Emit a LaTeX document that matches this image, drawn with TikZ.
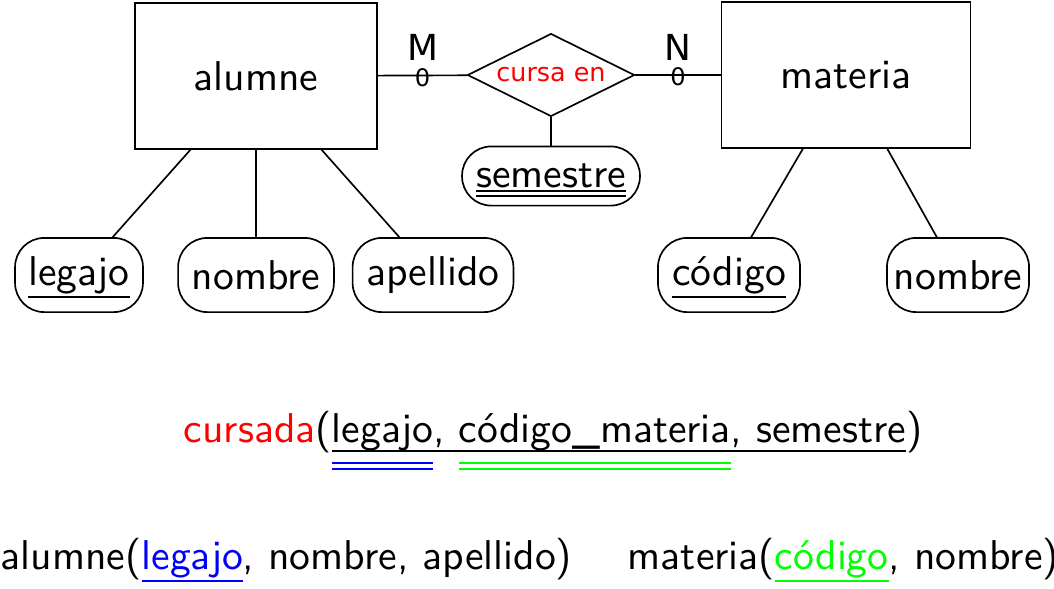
\documentclass[tikz,border=0pt]{standalone}
\usepackage{fontspec}
\usepackage{tikz}
\usetikzlibrary{shapes.geometric}
\usetikzlibrary{positioning}
\newfontfamily\djv{DejaVu Sans}
\newlength\ulwd
% one rule under a word, at a given depth
\newcommand\ul[2][3.1pt]{\settowidth\ulwd{#2}\leavevmode\rlap{\raisebox{0pt}[0pt][0pt]{\rule[-#1]{\ulwd}{0.5pt}}}#2}
% two thin rules under a word, colour, depth of first and second rule
\newcommand\twoline[4]{\settowidth\ulwd{#4}\leavevmode\rlap{\raisebox{0pt}[0pt][0pt]{\color{#1}\rule[-#2]{\ulwd}{0.45pt}\hspace{-\ulwd}\rule[-#3]{\ulwd}{0.45pt}}}#4}
\tikzset{line width=0.5pt,
  entity/.style = {rectangle,draw=black,font=\sffamily,minimum width=#1,minimum height=35pt,inner sep=0pt},
  attrib/.style = {rectangle,draw=black,rounded corners=7pt,font=\sffamily,minimum width=#1,minimum height=17.8pt,inner sep=0pt},
  relation/.style = {diamond,aspect=2,draw=black,text=red,font=\djv\fontsize{6.1}{7}\selectfont,minimum width=40.1pt,minimum height=19.9pt,inner sep=0pt},
  card/.style = {inner sep=0pt,font=\djv\fontsize{8.6}{9}\selectfont},
  zero/.style = {inner sep=0pt,font=\djv\fontsize{5.8}{6}\selectfont},
  rel/.style = {anchor=base west,inner sep=0pt,font=\sffamily}
}

\begin{document}
\begin{tikzpicture}[x=0.24pt,y=-0.24pt]
      \useasboundingbox (0,0) rectangle (1054,588);
      % entities and relation
      \node[entity=58.1pt] (alumne) at (256,76) {alumne};
      \node[entity=59.8pt] (materia) at (846,75) {materia};
      \node[relation] (cursa) at (551,75) {cursa en};
      \node[attrib=42.7pt,minimum height=14.2pt] (semestre) at (551,176) {\twoline{black}{1.1pt}{2.3pt}{semestre}};
      % attributes
      \node[attrib=30.7pt] (legajo) at (79,275) {\ul{legajo}};
      \node[attrib=37.4pt] (nombreA) at (256,275) {nombre};
      \node[attrib=38.6pt] (apellido) at (433,275) {apellido};
      \node[attrib=34.1pt] (codigo) at (729,275) {\ul{código}};
      \node[attrib=34.1pt] (nombreM) at (958,275) {nombre};
      % connectors
      \draw (alumne) -- (cursa) node[zero,midway,yshift=-0.5pt] (zeroA) {0}
                                node[card,midway,above=3.4pt] (cardM) {M};
      \draw (cursa) -- (materia) node[zero,midway,yshift=-0.5pt] (zeroM) {0}
                                 node[card,midway,above=3.4pt] (cardN) {N};
      \draw (cursa) -- (semestre);
      \draw (alumne) -- (legajo);
      \draw (alumne) -- (nombreA);
      \draw (alumne) -- (apellido);
      \draw (materia) -- (codigo);
      \draw (materia) -- (nombreM);
      % relations
      \node[rel] (cursada) at (183,442) {\textcolor{red}{cursada}(\ul[2.4pt]{\twoline{blue}{5.3pt}{6.7pt}{legajo}, \twoline{green}{5.3pt}{6.7pt}{código\_materia}, semestre})};
      \node[rel] (alumnerel) at (0,569) {alumne(\textcolor{blue}{\ul{legajo}}, nombre, apellido)};
      \node[rel] (materiarel) at (627,569) {materia(\textcolor{green}{\ul{código}}, nombre)};
    \end{tikzpicture}
\end{document}
